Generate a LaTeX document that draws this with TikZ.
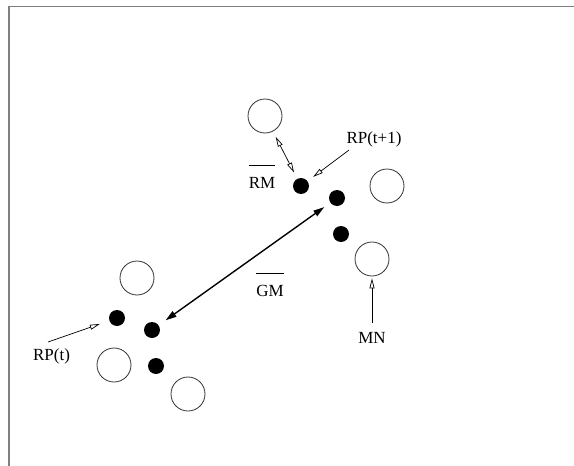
\documentclass[tikz,border=0pt]{standalone}
\usepackage{fontspec}
\setmainfont{Liberation Serif}
\usetikzlibrary{arrows.meta}
\begin{document}
\begin{tikzpicture}[x=1pt,y=-1pt,
  font=\fontsize{17}{20}\selectfont,
  frameline/.style={draw=black!50,line width=1.5pt},
  ring/.style={circle,draw=black!80,line width=0.8pt,minimum size=34pt,inner sep=0pt},
  dot/.style={circle,fill=black,minimum size=16pt,inner sep=0pt},
  lbl/.style={inner sep=0pt},
  thinarrow/.style={line width=0.7pt,-{Triangle[open,length=10pt,width=5pt]}},
  thindouble/.style={line width=0.7pt,{Triangle[open,length=10pt,width=5pt]}-{Triangle[open,length=10pt,width=5pt]}},
  thickdouble/.style={line width=1.4pt,{Triangle[length=11pt,width=6.5pt]}-{Triangle[length=11pt,width=6.5pt]}},
  overbar/.style={line width=0.8pt}]
\useasboundingbox (0,0) rectangle (574,466);

% open frame: top and left edges
\draw[frameline] (9,466) -- (9,6.5) -- (574,6.5);

% upper group
\node[ring] (c1) at (265,116) {};
\node[ring] (c2) at (387,186) {};
\node[ring] (c3) at (372,259) {};
\node[dot] (d1) at (301,186) {};
\node[dot] (d2) at (337,198) {};
\node[dot] (d3) at (341,234) {};

% lower group
\node[ring] (c4) at (137,278) {};
\node[ring] (c5) at (114,365) {};
\node[ring] (c6) at (188,394) {};
\node[dot] (d4) at (117,318) {};
\node[dot] (d5) at (152,330) {};
\node[dot] (d6) at (156,366) {};

% labels
\node[lbl] (rpt1) at (374,139) {RP(t+1)};
\node[lbl] (rm) at (262,183) {RM};
\node[lbl] (gm) at (270,291) {GM};
\node[lbl] (mn) at (372,338) {MN};
\node[lbl] (rpt) at (51.5,356) {RP(t)};

% overbars above RM and GM
\draw[overbar] ([yshift=12pt]rm.north west) -- ([yshift=12pt]rm.north east);
\draw[overbar] ([yshift=12pt]gm.north west) -- ([yshift=12pt]gm.north east);

% tails of the labelled arrows
\coordinate (rpt1s) at (349,150);
\coordinate (mns) at (372,323);
\coordinate (rpts) at (48,342);

% connectors
\draw[thindouble,shorten <=6pt,shorten >=7pt] (c1) -- (d1);
\draw[thinarrow,shorten >=7pt] (rpt1s) -- (d1);
\draw[thickdouble,shorten <=8.5pt,shorten >=7.5pt] (d5) -- (d2);
\draw[thinarrow,shorten >=2pt] (mns) -- (c3);
\draw[thinarrow,shorten >=10pt] (rpts) -- (d4);
\end{tikzpicture}
\end{document}
